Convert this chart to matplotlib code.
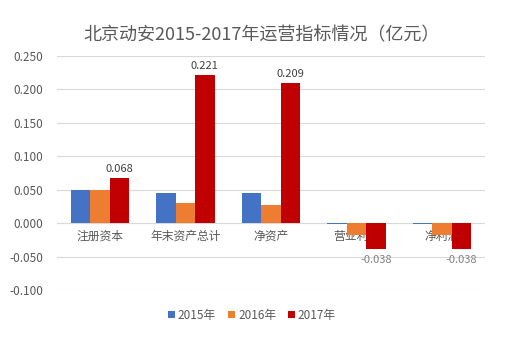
import matplotlib.pyplot as plt
import numpy as np

plt.rcParams['font.family'] = ['Noto Sans CJK SC', 'DejaVu Sans']

categories = ["注册资本", "年末资产总计", "净资产", "营业利润", "净利润"]
series_names = ["2015年", "2016年", "2017年"]
v2015 = [0.050, 0.045, 0.045, -0.002, -0.002]
v2016 = [0.050, 0.030, 0.027, -0.017, -0.017]
v2017 = [0.068, 0.221, 0.209, -0.038, -0.038]
colors = ["#4472C4", "#ED7D31", "#C00000"]

fig = plt.figure(figsize=(5.24, 3.51), dpi=100)
ax = fig.add_axes([57 / 524, 1 - 290 / 351, 428 / 524, 234 / 351])

x = np.arange(len(categories))
w = 0.227
for i, (vals, name, c) in enumerate(zip([v2015, v2016, v2017], series_names, colors)):
    bars = ax.bar(x + (i - 1) * w, vals, w, color=c, label=name, zorder=3)
    if i == 2:
        for b, v in zip(bars, vals):
            if v >= 0:
                ax.text(b.get_x() + b.get_width() / 2, v + 0.006, f"{v:.3f}",
                        ha="center", va="bottom", fontsize=8, color="#404040")
            else:
                ax.text(b.get_x() + b.get_width() / 2, v - 0.009, f"{v:.3f}",
                        ha="center", va="top", fontsize=8, color="#808080")

ax.set_xlim(-0.5, len(categories) - 0.5)
ax.set_ylim(-0.1, 0.25)
ticks = np.arange(-0.1, 0.2501, 0.05)
ax.set_yticks(ticks)
ax.set_yticklabels([f"{t:.3f}" for t in ticks])
ax.grid(axis="y", color="#D9D9D9", linewidth=0.8, zorder=0)
for s in ax.spines.values():
    s.set_visible(False)
ax.spines["bottom"].set_position(("data", 0))
ax.set_xticks(x)
ax.set_xticklabels(categories)
ax.tick_params(axis="both", length=0, labelsize=8.5, labelcolor="#595959")
ax.tick_params(axis="x", pad=5)
ax.tick_params(axis="y", pad=10)

fig.suptitle("北京动安2015-2017年运营指标情况（亿元）", y=0.925, fontsize=13, color="#595959")
fig.legend(loc="center", bbox_to_anchor=(252 / 524, 1 - 315 / 351), ncol=3, frameon=False,
           fontsize=8.5, handlelength=0.6, handleheight=0.6, handletextpad=0.25,
           columnspacing=1.0, labelcolor="#595959")

fig.savefig("out.png", dpi=100)
